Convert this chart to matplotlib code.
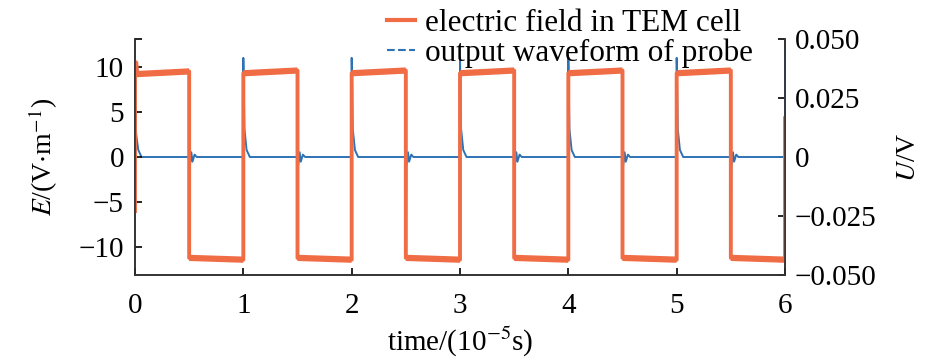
import matplotlib.pyplot as plt
from matplotlib.lines import Line2D
from matplotlib.ticker import FixedLocator, FuncFormatter

plt.rcParams['font.family'] = ['Liberation Serif', 'DejaVu Serif']
plt.rcParams['mathtext.fontset'] = 'stix'
plt.rcParams['axes.unicode_minus'] = True

# electric field in TEM cell (V/m), breakpoints of the square wave
e_time = [0.0, 0.0, 0.01, 0.5, 0.5, 1.0, 1.0, 1.5, 1.5, 2.0, 2.0, 2.5, 2.5,
          3.0, 3.0, 3.5, 3.5, 4.0, 4.0, 4.5, 4.5, 5.0, 5.0, 5.5, 5.5, 6.0, 6.0]
e_value = [-6.0, 10.6, 9.2, 9.5, -11.2, -11.4, 9.3, 9.6, -11.2, -11.4, 9.3, 9.6, -11.2,
           -11.4, 9.3, 9.6, -11.2, -11.4, 9.3, 9.6, -11.2, -11.4, 9.3, 9.6, -11.2, -11.4, 4.3]

# probe output (V)
u_time = [0.0, 0.01, 0.03, 0.06,
          0.5, 0.5, 0.505, 0.52, 0.53, 0.55, 0.57,
          1.0, 1.0, 1.01, 1.03, 1.06,
          1.5, 1.5, 1.505, 1.52, 1.53, 1.55, 1.57,
          2.0, 2.0, 2.01, 2.03, 2.06,
          2.5, 2.5, 2.505, 2.52, 2.53, 2.55, 2.57,
          3.0, 3.0, 3.01, 3.03, 3.06,
          3.5, 3.5, 3.505, 3.52, 3.53, 3.55, 3.57,
          4.0, 4.0, 4.01, 4.03, 4.06,
          4.5, 4.5, 4.505, 4.52, 4.53, 4.55, 4.57,
          5.0, 5.0, 5.01, 5.03, 5.06,
          5.5, 5.5, 5.505, 5.52, 5.53, 5.55, 5.57,
          6.0, 6.0]
u_value = [0.040, 0.010, 0.003, 0.0,
           0.0, -0.040, -0.004, 0.002, -0.002, 0.001, 0.0,
           0.0, 0.042, 0.012, 0.003, 0.0,
           0.0, -0.040, -0.004, 0.002, -0.002, 0.001, 0.0,
           0.0, 0.042, 0.012, 0.003, 0.0,
           0.0, -0.040, -0.004, 0.002, -0.002, 0.001, 0.0,
           0.0, 0.042, 0.012, 0.003, 0.0,
           0.0, -0.040, -0.004, 0.002, -0.002, 0.001, 0.0,
           0.0, 0.042, 0.012, 0.003, 0.0,
           0.0, -0.040, -0.004, 0.002, -0.002, 0.001, 0.0,
           0.0, 0.042, 0.012, 0.003, 0.0,
           0.0, -0.040, -0.004, 0.002, -0.002, 0.001, 0.0,
           0.0, 0.045]

x_ticks = [0, 1, 2, 3, 4, 5, 6]
e_ticks = [-10, -5, 0, 5, 10]
u_ticks = [-0.05, -0.025, 0, 0.025, 0.05]

orange = '#EF6C45'
blue = '#2E72B4'

fig = plt.figure(figsize=(9.45, 3.61), dpi=100)
ax = fig.add_axes([135 / 945, 1 - 275 / 361, 650 / 945, 236 / 361])
ax2 = ax.twinx()

ax.plot(e_time, e_value, c=orange, lw=2.8, zorder=2)
# plateaus look thicker because of the noise
for i in range(len(e_time) - 1):
    if e_time[i + 1] > e_time[i] and abs(e_value[i + 1] - e_value[i]) < 2:
        ax.plot(e_time[i:i + 2], e_value[i:i + 2], c=orange, lw=4.5,
                solid_capstyle='butt', zorder=2)
ax2.plot(u_time, u_value, c=blue, lw=1.4, zorder=3)
ax.set_zorder(ax2.get_zorder() + 1)
ax.patch.set_visible(False)

ax.set_xlim(0, 6)
ax.set_ylim(-13.1, 13.1)
ax2.set_ylim(-0.05, 0.05)

ax.set_xticks(x_ticks)
ax.set_yticks(e_ticks)
ax.yaxis.set_minor_locator(FixedLocator([13.1]))
ax2.set_yticks(u_ticks)
ax2.yaxis.set_major_formatter(FuncFormatter(
    lambda v, p: '0' if abs(v) < 1e-9 else ('%.3f' % v).replace('-', '\u2212')))

for a in (ax, ax2):
    a.spines['top'].set_visible(False)
    a.tick_params(direction='in', length=5, width=1.2, labelsize=21, pad=8)
    a.tick_params(which='minor', direction='in', length=5, width=1.2)
    for s in a.spines.values():
        s.set_linewidth(1.2)
        s.set_color('#333333')
ax.tick_params(axis='x', pad=13)
ax2.tick_params(axis='y', pad=7)

ax.set_xlabel('time/(10$^{-5}$s)', fontsize=21, labelpad=4)
ax.set_ylabel('$E$/(V$\\cdot$m$^{-1}$)', fontsize=20, labelpad=13)
ax2.set_ylabel('$U$/V', fontsize=20, labelpad=14)

handles = [Line2D([], [], c=orange, lw=3),
           Line2D([], [], c=blue, lw=1.5, ls='--')]
fig.legend(handles, ['electric field in TEM cell', 'output waveform of probe'],
           loc='upper left', bbox_to_anchor=(0.403, 0.992), frameon=False,
           fontsize=22.5, handlelength=0.9, handletextpad=0.32,
           labelspacing=0.0, borderpad=0.2, borderaxespad=0)

plt.savefig('out.png', dpi=100)
